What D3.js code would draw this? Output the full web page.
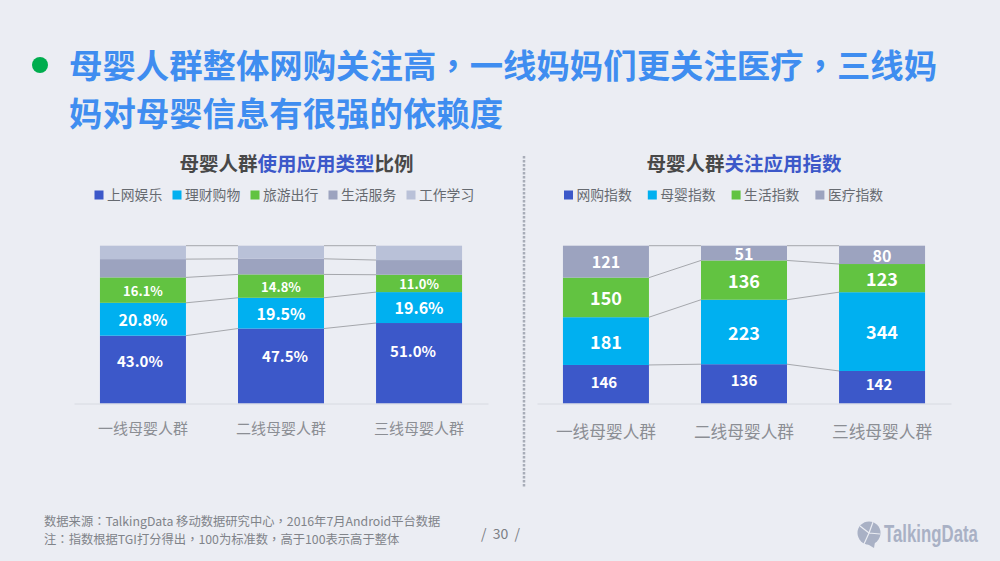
<!DOCTYPE html>
<html>
<head>
<meta charset="utf-8">
<script src="https://cdn.jsdelivr.net/npm/d3@7"></script>
<style>
    html, body { margin: 0; padding: 0; background: #ebedf3; }
    svg { display: block; }
    text { font-family: "Noto Sans CJK SC", "Noto Sans", sans-serif; }
</style>
</head>
<body>
<svg id="chart" width="1000" height="561"></svg>
<script>
    'use strict';

    var categories = ['一线母婴人群', '二线母婴人群', '三线母婴人群'];

    // left chart, percent of users
    var typeSeries = ['上网娱乐', '理财购物', '旅游出行', '生活服务', '工作学习'];
    var typeLeisure = [43.0, 47.5, 51.0];
    var typeFinance = [20.8, 19.5, 19.6];
    var typeTravel = [16.1, 14.8, 11.0];
    var typeLife = [11.6, 9.9, 9.3];
    var typeWork = [8.5, 8.3, 9.1];

    // right chart, TGI index
    var indexSeries = ['网购指数', '母婴指数', '生活指数', '医疗指数'];
    var indexShopping = [146, 136, 142];
    var indexBaby = [181, 223, 344];
    var indexLife = [150, 136, 123];
    var indexMedical = [121, 51, 80];

    var titleLines = [
        '母婴人群整体网购关注高，一线妈妈们更关注医疗，三线妈',
        '妈对母婴信息有很强的依赖度'
    ];
    var footnotes = [
        '数据来源：TalkingData 移动数据研究中心，2016年7月Android平台数据',
        '注：指数根据TGI打分得出，100为标准数，高于100表示高于整体'
    ];

    var colors = ['#3c58c9', '#00b0f0', '#62c341', '#9ca3bf', '#b9c1d8'];
    var svg = d3.select('#chart');

    // the TC face centres full width punctuation, like the original
    function punctuated(selection) {
        selection.selectAll('tspan')
            .data(function(d) { return d.split(/([，：])/); })
            .join('tspan')
            .style('font-family', function(d) {
                return (/[，：]/).test(d) ? '"Noto Sans CJK TC"' : null;
            })
            .text(function(d) { return d; });
    }

    svg.selectAll('text.title')
        .data(titleLines)
        .join('text')
        .attr('class', 'title')
        .attr('x', 69)
        .attr('y', function(d, i) { return 78 + i * 48; })
        .attr('font-size', 33.4)
        .attr('font-weight', 700)
        .attr('fill', '#3f8df0')
        .call(punctuated);

    svg.append('circle')
        .attr('cx', 40).attr('cy', 65).attr('r', 8)
        .attr('fill', '#00ad4e');

    svg.append('line')
        .attr('x1', 524).attr('x2', 524)
        .attr('y1', 156).attr('y2', 488)
        .attr('stroke', '#a8adb8')
        .attr('stroke-width', 2.5)
        .attr('stroke-dasharray', '2.5 1.5');

    drawPanel({
        names: typeSeries,
        columns: [typeLeisure, typeFinance, typeTravel, typeLife, typeWork],
        range: [74, 488],
        heading: ['母婴人群', '使用应用类型', '比例'],
        headingX: 296.5,
        legendX: 94.5,
        legendStep: 78,
        tickSize: 15,
        tickPadding: 20,
        labelCount: 3,
        labelSizes: [15, 16, 13],
        format: d3.format('.1f'),
        suffix: '%',
        nudges: [[[-3, -9], [0, 0], [0, 0]], [[4, -10], [0, 0], [0, 0]], [[-6, -13], [0, 0], [0, 0]]]
    });

    drawPanel({
        names: indexSeries,
        columns: [indexShopping, indexBaby, indexLife, indexMedical],
        range: [537, 951],
        heading: ['母婴人群', '关注应用指数'],
        headingX: 744,
        legendX: 564,
        legendStep: 83.8,
        tickSize: 16.7,
        tickPadding: 23,
        labelCount: 4,
        labelSizes: [15, 18, 18, 16],
        format: d3.format('d'),
        suffix: '',
        nudges: [[[-2, -3]], [[0, -4]], [[-3, -4]]]
    });

    function drawPanel(opts) {
        var rows = categories.map(function(name, i) {
                var row = { name: name };
                opts.names.forEach(function(key, k) {
                    row[key] = opts.columns[k][i];
                });
                return row;
            }),
            stacked = d3.stack()
                .keys(opts.names)
                .offset(d3.stackOffsetExpand)(rows),
            x = d3.scaleBand()
                .domain(categories)
                .range(opts.range)
                .paddingInner(0.377)
                .paddingOuter(0.188),
            y = d3.scaleLinear().domain([0, 1]).range([403.5, 245.7]),
            panel = svg.append('g');

        // heading with the highlighted middle part
        panel.append('text')
            .attr('x', opts.headingX)
            .attr('y', 171)
            .attr('text-anchor', 'middle')
            .attr('font-size', 19.5)
            .attr('font-weight', 700)
            .selectAll('tspan')
            .data(opts.heading)
            .join('tspan')
            .attr('fill', function(d, i) { return i === 1 ? '#3c58c9' : '#484848'; })
            .text(function(d) { return d; });

        var legend = panel.selectAll('g.legend')
            .data(opts.names)
            .join('g')
            .attr('class', 'legend')
            .attr('transform', function(d, i) {
                return 'translate(' + (opts.legendX + i * opts.legendStep) + ',195)';
            });
        legend.append('rect')
            .attr('y', -4.5)
            .attr('width', 9)
            .attr('height', 9)
            .attr('fill', function(d, i) { return colors[i]; });
        legend.append('text')
            .attr('x', 12.5)
            .attr('y', 5)
            .attr('font-size', 13.8)
            .attr('fill', '#666a70')
            .text(function(d) { return d; });

        // connector lines between neighbouring bars, one per series top
        var link = d3.line()
            .x(function(d) { return d[0]; })
            .y(function(d) { return d[1]; });
        stacked.forEach(function(layer) {
            d3.pairs(layer).forEach(function(pair) {
                panel.append('path')
                    .attr('d', link([
                        [x(pair[0].data.name) + x.bandwidth(), y(pair[0][1])],
                        [x(pair[1].data.name), y(pair[1][1])]
                    ]))
                    .attr('fill', 'none')
                    .attr('stroke', '#a5a7ac')
                    .attr('stroke-width', 1);
            });
        });

        panel.selectAll('g.series')
            .data(stacked)
            .join('g')
            .attr('class', 'series')
            .attr('fill', function(d, i) { return colors[i]; })
            .selectAll('rect')
            .data(function(d) { return d; })
            .join('rect')
            .attr('x', function(d) { return x(d.data.name); })
            .attr('y', function(d) { return y(d[1]); })
            .attr('width', x.bandwidth())
            .attr('height', function(d) { return y(d[0]) - y(d[1]); });

        stacked.slice(0, opts.labelCount).forEach(function(layer, k) {
            panel.selectAll('text.value-' + k)
                .data(layer)
                .join('text')
                .attr('class', 'value-' + k)
                .attr('x', function(d, i) {
                    var nudge = (opts.nudges[i][k] || [0, 0])[0];
                    return x(d.data.name) + x.bandwidth() / 2 + nudge;
                })
                .attr('y', function(d, i) {
                    var nudge = (opts.nudges[i][k] || [0, 0])[1];
                    return (y(d[0]) + y(d[1])) / 2 + nudge;
                })
                .attr('dy', '0.42em')
                .attr('text-anchor', 'middle')
                .attr('font-size', opts.labelSizes[k])
                .attr('font-weight', 700)
                .attr('fill', '#fff')
                .text(function(d) {
                    return opts.format(d.data[layer.key]) + opts.suffix;
                });
        });

        var axis = panel.append('g')
            .attr('transform', 'translate(0,403.5)')
            .call(d3.axisBottom(x).tickSize(0).tickPadding(opts.tickPadding));
        axis.select('.domain')
            .attr('stroke', '#d7dae1');
        axis.selectAll('text')
            .attr('font-size', opts.tickSize)
            .attr('fill', '#8b8e94')
            .attr('font-family', '"Noto Sans CJK SC", sans-serif');
    }

    svg.selectAll('text.note')
        .data(footnotes)
        .join('text')
        .attr('class', 'note')
        .attr('x', 44)
        .attr('y', function(d, i) { return 526 + i * 18; })
        .attr('font-size', 12.3)
        .attr('fill', '#808389')
        .call(punctuated);

    svg.append('text')
        .attr('x', 500.5)
        .attr('y', 539)
        .attr('text-anchor', 'middle')
        .attr('font-size', 14)
        .attr('fill', '#7b7e84')
        .attr('xml:space', 'preserve')
        .text('/  30  /');

    // logo
    var logo = svg.append('g').attr('fill', '#a9b1c5');
    logo.append('circle').attr('cx', 869).attr('cy', 533).attr('r', 11.5);
    logo.append('path').attr('d', 'M864 542 L875 542 L874 548 Z');
    logo.append('path')
        .attr('d', 'M869 533 L860 526 M869 533 L873 522 M869 533 L880 534 M869 533 L864 544')
        .attr('stroke', '#ebedf3')
        .attr('stroke-width', 1.2)
        .attr('fill', 'none');
    var logoText = logo.append('text')
        .attr('font-size', 23)
        .attr('font-weight', 700)
        .style('font-family', '"Liberation Sans", sans-serif')
        .text('TalkingData');
    logoText.attr('transform', 'translate(884,542) scale(' + (94 / logoText.node().getComputedTextLength()) + ',1)');
</script>
</body>
</html>
